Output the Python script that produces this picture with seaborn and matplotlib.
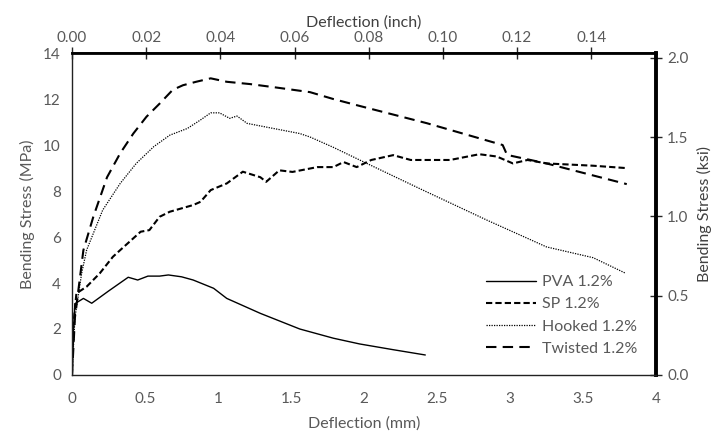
import matplotlib
matplotlib.use("Agg")
import matplotlib.pyplot as plt
import seaborn as sns
import pandas as pd

sns.set_theme(style="white")
plt.rcParams['font.family'] = ['Lato', 'DejaVu Sans']

pva_x = [0.0, 0.01, 0.02, 0.078, 0.135, 0.25, 0.385, 0.45, 0.52, 0.6, 0.66, 0.75, 0.83, 0.97, 1.06, 1.29, 1.56, 1.79, 1.97, 2.2, 2.42]
pva_y = [0.0, 2.0, 3.1, 3.33, 3.12, 3.65, 4.25, 4.13, 4.3, 4.3, 4.35, 4.27, 4.13, 3.77, 3.33, 2.68, 2.0, 1.6, 1.35, 1.1, 0.87]

sp_x = [0.0, 0.01, 0.03, 0.1, 0.19, 0.28, 0.33, 0.47, 0.53, 0.6, 0.67, 0.83, 0.88, 0.95, 1.06, 1.17, 1.29, 1.33, 1.42, 1.51, 1.68, 1.79, 1.86, 1.95, 2.05, 2.2, 2.32, 2.59, 2.79, 2.91, 3.02, 3.12, 3.25, 3.57, 3.79]
sp_y = [0.0, 2.2, 3.55, 3.84, 4.42, 5.14, 5.43, 6.23, 6.3, 6.88, 7.1, 7.39, 7.53, 8.04, 8.33, 8.84, 8.6, 8.4, 8.9, 8.83, 9.04, 9.04, 9.26, 9.04, 9.35, 9.56, 9.35, 9.35, 9.6, 9.5, 9.2, 9.35, 9.2, 9.1, 9.0]

hk_x = [0.0, 0.02, 0.066, 0.1, 0.21, 0.33, 0.44, 0.56, 0.67, 0.79, 0.88, 0.95, 1.01, 1.08, 1.13, 1.2, 1.56, 1.63, 1.79, 1.97, 2.4, 2.84, 3.25, 3.57, 3.79]
hk_y = [0.0, 2.5, 4.42, 5.43, 7.17, 8.33, 9.2, 9.93, 10.43, 10.72, 11.09, 11.4, 11.4, 11.16, 11.26, 10.94, 10.5, 10.35, 9.9, 9.35, 8.05, 6.74, 5.57, 5.1, 4.43]

tw_x = [0.0, 0.02, 0.078, 0.146, 0.24, 0.33, 0.42, 0.51, 0.6, 0.69, 0.76, 0.85, 0.95, 1.06, 1.22, 1.4, 1.63, 1.79, 1.97, 2.43, 2.95, 2.98, 3.25, 3.8]
tw_y = [0.0, 2.5, 5.43, 6.88, 8.6, 9.64, 10.5, 11.23, 11.8, 12.4, 12.6, 12.75, 12.9, 12.75, 12.65, 12.5, 12.3, 12.0, 11.7, 10.95, 10.0, 9.57, 9.2, 8.3]

labels = ["PVA 1.2%", "SP 1.2%", "Hooked 1.2%", "Twisted 1.2%"]
x_ticks = [0, 0.5, 1, 1.5, 2, 2.5, 3, 3.5, 4]
x_tick_labels = ["0", "0.5", "1", "1.5", "2", "2.5", "3", "3.5", "4"]
y_ticks = [0, 2, 4, 6, 8, 10, 12, 14]
top_ticks = [0.00, 0.02, 0.04, 0.06, 0.08, 0.10, 0.12, 0.14]
right_ticks = [0.0, 0.5, 1.0, 1.5, 2.0]

fig = plt.figure(figsize=(7.18, 4.42), dpi=100)
ax = fig.add_axes([0.1003, 0.1516, 0.8133, 0.7284])

styles = [
    dict(linestyle='-', linewidth=1.0),
    dict(linestyle=(0, (3, 1.5)), linewidth=1.5),
    dict(linestyle=(0, (1, 1)), linewidth=0.9),
    dict(linestyle=(0, (5, 3)), linewidth=1.5),
]
series = [(pva_x, pva_y), (sp_x, sp_y), (hk_x, hk_y), (tw_x, tw_y)]
for (xs, ys), lab, st in zip(series, labels, styles):
    df = pd.DataFrame({"x": xs, "y": ys})
    sns.lineplot(data=df, x="x", y="y", ax=ax, color="black", label=lab,
                 sort=False, estimator=None, **st)

ax.set_xlim(0, 4)
ax.set_ylim(0, 14)
ax.set_xticks(x_ticks)
ax.set_xticklabels(x_tick_labels)
ax.set_yticks(y_ticks)
gray = "#595959"
ax.set_xlabel("Deflection (mm)", fontsize=11.5, color=gray, labelpad=8)
ax.set_ylabel("Bending Stress (MPa)", fontsize=11.5, color=gray, labelpad=6)
ax.tick_params(axis='both', direction='inout', length=8, width=1, colors='black',
               labelcolor=gray, labelsize=11, pad=4)
ax.tick_params(axis='x', pad=8)
for s in ['left', 'bottom']:
    ax.spines[s].set_color('#222222')
    ax.spines[s].set_linewidth(1.0)
ax.spines['top'].set_linewidth(2.0)
ax.spines['top'].set_color('black')
ax.spines['right'].set_linewidth(2.8)
ax.spines['right'].set_color('black')

top = ax.secondary_xaxis('top', functions=(lambda v: v / 25.4, lambda v: v * 25.4))
top.set_xticks(top_ticks)
top.set_xticklabels([f"{t:.2f}" for t in top_ticks])
top.set_xlabel("Deflection (inch)", fontsize=11.5, color="#404040", labelpad=3)
top.tick_params(direction='inout', length=8, width=1, labelcolor=gray, labelsize=11, pad=2)

right = ax.secondary_yaxis('right', functions=(lambda v: v / 6.895, lambda v: v * 6.895))
right.set_yticks(right_ticks)
right.set_yticklabels([f"{t:.1f}" for t in right_ticks])
right.set_ylabel("Bending Stress (ksi)", fontsize=11.5, color="#404040", labelpad=6)
right.tick_params(direction='inout', length=8, width=1, labelcolor=gray, labelsize=11, pad=4)
right.spines['right'].set_visible(False)

leg = ax.legend(loc='lower right', bbox_to_anchor=(0.993, 0.015), frameon=False,
                fontsize=11.5, handlelength=3.1, handletextpad=0.4, labelspacing=0.5)
for t in leg.get_texts():
    t.set_color(gray)

fig.savefig("out.png", dpi=100)
